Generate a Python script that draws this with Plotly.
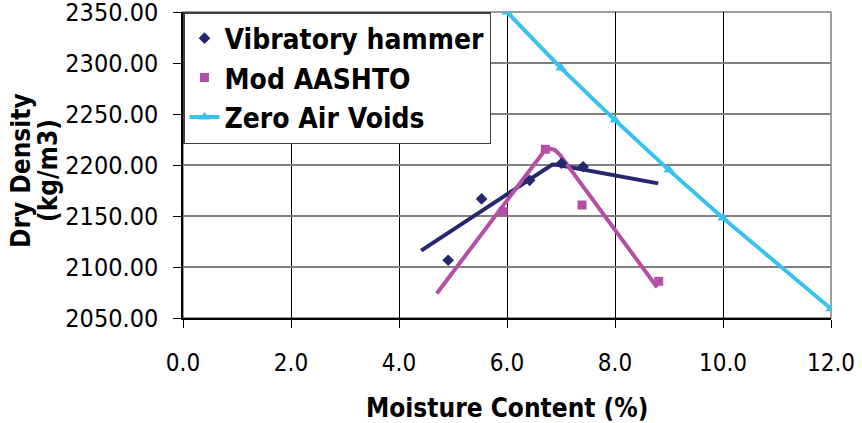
import plotly.graph_objects as go

# Compaction test results
vib_moisture = [4.91, 5.53, 6.42, 7.01, 7.41]
vib_density = [2106.6, 2166.7, 2185.0, 2201.7, 2198.3]

aashto_moisture = [5.93, 6.71, 7.39, 8.81]
aashto_density = [2154.2, 2215.4, 2160.8, 2086.0]

zav_moisture = [6, 7, 8, 9, 10, 12]
zav_density = [2350, 2295, 2244, 2195, 2148, 2059]

# Fitted compaction curves
vib_fit_moisture = [4.41, 6.75, 6.84, 6.95, 8.80]
vib_fit_density = [2116, 2198, 2200.5, 2200, 2182]

aashto_fit_moisture = [4.70, 6.68, 6.78, 6.88, 6.98, 8.78]
aashto_fit_density = [2074, 2213, 2216, 2215, 2210, 2080]

x_ticks = [0, 2, 4, 6, 8, 10, 12]
y_ticks = [2050, 2100, 2150, 2200, 2250, 2300, 2350]

NAVY = "#27276f"
MAGENTA = "#b44fa6"
CYAN = "#38c3ef"
FONT = "DejaVu Sans Condensed, DejaVu Sans, sans-serif"

fig = go.Figure()

fig.add_trace(go.Scatter(
    x=vib_fit_moisture, y=vib_fit_density, mode="lines",
    line=dict(color=NAVY, width=4), showlegend=False, hoverinfo="skip"))
fig.add_trace(go.Scatter(
    x=aashto_fit_moisture, y=aashto_fit_density, mode="lines",
    line=dict(color=MAGENTA, width=4), showlegend=False, hoverinfo="skip"))

fig.add_trace(go.Scatter(
    x=vib_moisture, y=vib_density, mode="markers", name="Vibratory hammer",
    marker=dict(symbol="diamond", size=9, color=NAVY)))
fig.add_trace(go.Scatter(
    x=aashto_moisture, y=aashto_density, mode="markers", name="Mod AASHTO",
    marker=dict(symbol="square", size=9, color=MAGENTA)))
fig.add_trace(go.Scatter(
    x=zav_moisture, y=zav_density, mode="lines+markers", name="Zero Air Voids",
    line=dict(color=CYAN, width=4),
    marker=dict(symbol="triangle-up", size=10, color=CYAN)))

# grey frame on top/right of the plot area
fig.add_shape(type="rect", xref="paper", yref="paper", x0=0, x1=1, y0=0, y1=1,
              line=dict(color="#808080", width=1.5), layer="between")

fig.update_xaxes(
    range=[0, 12], tickvals=x_ticks, tickformat=".1f",
    showgrid=True, gridcolor="#000000", gridwidth=1,
    showline=True, linecolor="#000000", linewidth=1.5,
    ticks="outside", ticklen=8, tickcolor="#000000",
    ticklabelstandoff=14, automargin=False,
    tickfont=dict(family=FONT, size=24, color="#000000"),
    zeroline=False)
fig.update_yaxes(
    range=[2050, 2350], tickvals=y_ticks, tickformat=".2f",
    showgrid=True, gridcolor="#808080", gridwidth=1.5,
    showline=True, linecolor="#000000", linewidth=1.5,
    ticks="outside", ticklen=8, tickcolor="#000000",
    ticklabelstandoff=10, ticklabeloverflow="allow", automargin=False,
    tickfont=dict(family=FONT, size=25, color="#000000"),
    zeroline=False)

fig.add_annotation(
    text="<b>Moisture Content (%)</b>", xref="paper", yref="paper",
    x=0.5, y=0, xanchor="center", yanchor="middle", yshift=-90,
    showarrow=False, font=dict(family=FONT, size=26, color="#000000"))
fig.add_annotation(
    text="<b>Dry Density</b>", xref="paper", yref="paper",
    x=0, y=0.5, xanchor="center", yanchor="middle", xshift=-162, yshift=-6,
    textangle=-90, showarrow=False,
    font=dict(family=FONT, size=26, color="#000000"))
fig.add_annotation(
    text="<b>(kg/m3)</b>", xref="paper", yref="paper",
    x=0, y=0.5, xanchor="center", yanchor="middle", xshift=-135, yshift=-6,
    textangle=-90, showarrow=False,
    font=dict(family=FONT, size=26, color="#000000"))

fig.update_layout(
    width=862, height=423,
    margin=dict(l=183, r=31, t=12, b=105, autoexpand=False),
    plot_bgcolor="#ffffff", paper_bgcolor="#ffffff",
    font=dict(family=FONT, color="#000000"),
    legend=dict(
        x=0, y=1, xanchor="left", yanchor="top",
        bgcolor="#ffffff", bordercolor="#404040", borderwidth=1.5,
        font=dict(family=FONT, size=28, color="#000000", weight="bold"),
        tracegroupgap=0),
)

fig.write_html("out.html")
